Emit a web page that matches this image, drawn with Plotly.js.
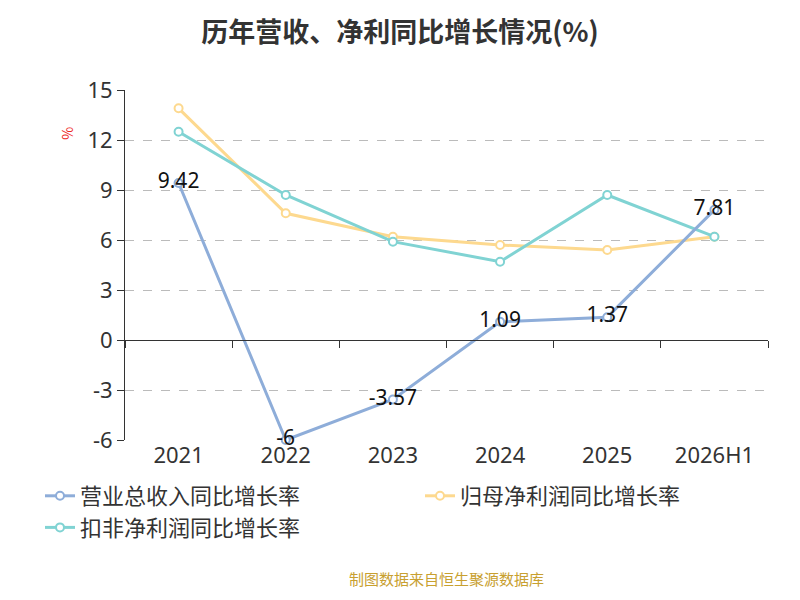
<!DOCTYPE html>
<html>
<head>
<meta charset="utf-8">
<script src="https://cdn.plot.ly/plotly-3.0.1.min.js"></script>
<style>html,body{margin:0;padding:0;background:#fff}</style>
</head>
<body>
<div id="chart" style="width:800px;height:600px"></div>
<script>
const years = ["2021", "2022", "2023", "2024", "2025", "2026H1"];
const revenueGrowth = [9.42, -6, -3.57, 1.09, 1.37, 7.81];
const netProfitGrowth = [13.9, 7.6, 6.2, 5.7, 5.4, 6.2];
const deductedGrowth = [12.5, 8.7, 5.9, 4.7, 8.7, 6.2];
const yTicks = [-6, -3, 0, 3, 6, 9, 12, 15];

const FONT = "Noto Sans CJK SC, Noto Sans, sans-serif";

const series = (name, y, color, rank, withText) => ({
  x: years,
  y: y,
  name: name,
  legendrank: rank,
  type: "scatter",
  mode: withText ? "lines+markers+text" : "lines+markers",
  text: withText ? y.map(String) : undefined,
  textposition: "middle center",
  textfont: { size: 21, color: "#111", family: "Noto Sans, sans-serif" },
  line: { color: color, width: 3 },
  marker: { size: 8, color: "#fff", line: { color: color, width: 2 } },
  cliponaxis: false
});

// revenue drawn last so its labels sit on top
const data = [
  { x: years, y: revenueGrowth, xaxis: "x2", type: "scatter", mode: "none", showlegend: false, hoverinfo: "skip" },
  series("归母净利润同比增长率", netProfitGrowth, "#fdd98f", 2, false),
  series("扣非净利润同比增长率", deductedGrowth, "#80d3d3", 3, false),
  series("营业总收入同比增长率", revenueGrowth, "#8eadd9", 1, true)
];

const layout = {
  width: 800,
  height: 600,
  margin: { t: 90, r: 32, b: 160, l: 125 },
  paper_bgcolor: "#fff",
  plot_bgcolor: "#fff",
  font: { family: FONT, color: "#333" },
  title: { text: "<b>历年营收、净利同比增长情况(%)</b>", x: 0.5, y: 0.962, font: { size: 27, color: "#333" } },
  xaxis: {
    type: "category",
    range: [-0.5, 5.5],
    showline: false,
    showgrid: false,
    zeroline: false,
    ticks: "",
    tickfont: { size: 22, color: "#333", family: "Noto Sans, sans-serif" }
  },
  xaxis2: {
    type: "category",
    overlaying: "x",
    anchor: "free",
    position: 6 / 21,
    side: "bottom",
    range: [-0.5, 5.5],
    showline: true,
    linecolor: "#333",
    linewidth: 1,
    ticks: "outside",
    tickson: "boundaries",
    ticklen: 7,
    tickcolor: "#333",
    showticklabels: false,
    showgrid: false
  },
  yaxis: {
    range: [-6, 15],
    tickvals: yTicks,
    ticktext: yTicks.map(String),
    showline: true,
    linecolor: "#333",
    ticks: "outside",
    ticklen: 7,
    tickcolor: "#333",
    tickfont: { size: 22, color: "#333", family: "Noto Sans, sans-serif" },
    showgrid: true,
    gridcolor: "#bbb",
    griddash: "dash",
    zeroline: false
  },
  legend: {
    orientation: "h",
    x: -0.07,
    y: -0.1,
    xanchor: "left",
    yanchor: "top",
    font: { size: 22, color: "#333" },
    traceorder: "normal",
    entrywidth: 335
  },
  annotations: [
    { text: "%", xref: "paper", yref: "paper", x: -0.11, y: 0.9, showarrow: false, textangle: -90, font: { size: 14, color: "#e22" } },
    { text: "制图数据来自恒生聚源数据库", xref: "paper", yref: "paper", x: 0.5, xanchor: "center", y: -0.43, showarrow: false, font: { size: 15, color: "#c8a030" } }
  ],
  showlegend: true
};

Plotly.newPlot("chart", data, layout, { displayModeBar: false, staticPlot: true });
</script>
</body>
</html>
